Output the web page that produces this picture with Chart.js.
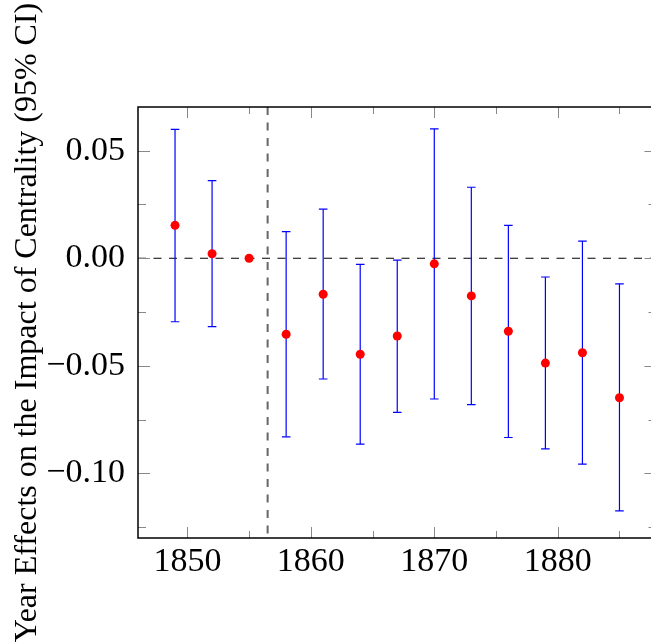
<!DOCTYPE html>
<html>
<head>
<meta charset="utf-8">
<script src="https://cdn.jsdelivr.net/npm/chart.js@4"></script>
<style>
  html, body { margin: 0; background: #fff; overflow: hidden; }
  canvas { display: block; }
</style>
</head>
<body>
<!-- canvas is a bit wider than the window: the right spine sits just off-page like in the original -->
<canvas id="chart" width="662" height="644"></canvas>
<script>
// year effects and 95% CI bounds (1855 is the reference year)
const years = [1849, 1852, 1855, 1858, 1861, 1864, 1867, 1870, 1873, 1876, 1879, 1882, 1885];
const estimates = [0.0153, 0.0021, 0, -0.0353, -0.0167, -0.0446, -0.0361, -0.0026, -0.0175, -0.0339, -0.0487, -0.0439, -0.0648];
const lowerCI = [-0.0295, -0.0318, null, -0.0830, -0.0561, -0.0864, -0.0716, -0.0654, -0.0680, -0.0833, -0.0886, -0.0957, -0.1174];
const upperCI = [0.0599, 0.0361, null, 0.0124, 0.0228, -0.0028, -0.0009, 0.0601, 0.0330, 0.0153, -0.0087, 0.0080, -0.0119];

const xMajorTicks = [1850, 1860, 1870, 1880];
const xMinorTicks = [1855, 1865, 1875, 1885];
const yMajorTicks = [0.05, 0, -0.05, -0.10];
const yMinorTicks = [0.025, -0.025, -0.075, -0.125];
const breakYear = 1856.5;

const serif = "'Liberation Serif', 'DejaVu Serif', serif";

// error bars as gapped line segments, caps from the 'line' point style
const errorPoints = [];
years.forEach((yr, i) => {
  if (lowerCI[i] === null) return;
  errorPoints.push({ x: yr, y: lowerCI[i] });
  errorPoints.push({ x: yr, y: upperCI[i] });
  errorPoints.push({ x: yr, y: null });
});

const fmtY = (v) => {
  const s = Math.abs(v).toFixed(2);
  return v < -1e-9 ? "\u2212" + s : s;
};

const decorations = {
  id: "decorations",
  beforeDatasetsDraw(chart) {
    const { ctx, chartArea: a, scales: { x, y } } = chart;
    ctx.save();
    // reference lines
    ctx.setLineDash([8, 7.5]);
    ctx.strokeStyle = "#000";
    ctx.lineWidth = 1.2;
    const y0 = y.getPixelForValue(0);
    ctx.beginPath();
    ctx.moveTo(a.left, y0);
    ctx.lineTo(a.right, y0);
    ctx.stroke();
    ctx.strokeStyle = "#666";
    ctx.lineWidth = 2;
    const xb = x.getPixelForValue(breakYear);
    ctx.beginPath();
    ctx.moveTo(xb, a.top);
    ctx.lineTo(xb, a.bottom);
    ctx.stroke();
    ctx.restore();
  },
  afterDraw(chart) {
    const { ctx, chartArea: a, scales: { x, y } } = chart;
    ctx.save();
    ctx.strokeStyle = "#888";
    ctx.lineWidth = 1;
    const tickX = (v, len) => {
      const px = Math.round(x.getPixelForValue(v)) + 0.5;
      ctx.beginPath();
      ctx.moveTo(px, a.bottom); ctx.lineTo(px, a.bottom - len);
      ctx.moveTo(px, a.top); ctx.lineTo(px, a.top + len);
      ctx.stroke();
    };
    const tickY = (v, len) => {
      const py = Math.round(y.getPixelForValue(v)) + 0.5;
      ctx.beginPath();
      ctx.moveTo(a.left, py); ctx.lineTo(a.left + len, py);
      ctx.moveTo(a.right, py); ctx.lineTo(a.right - len, py);
      ctx.stroke();
    };
    xMajorTicks.forEach((v) => tickX(v, 11));
    xMinorTicks.forEach((v) => tickX(v, 7));
    yMajorTicks.forEach((v) => tickY(v, 12));
    yMinorTicks.forEach((v) => tickY(v, 8));
    ctx.strokeStyle = "#000";
    ctx.lineWidth = 1.5;
    ctx.strokeRect(a.left, a.top, a.right - a.left, a.bottom - a.top);
    ctx.restore();
  }
};

new Chart(document.getElementById("chart"), {
  type: "scatter",
  data: {
    datasets: [
      {
        label: "Estimate",
        data: years.map((yr, i) => ({ x: yr, y: estimates[i] })),
        backgroundColor: "#ff0000",
        borderWidth: 0,
        pointRadius: 4.5,
        order: 0
      },
      {
        label: "95% CI",
        data: errorPoints,
        showLine: true,
        spanGaps: false,
        borderColor: "#0000ff",
        borderWidth: 1.2,
        pointStyle: "line",
        pointRadius: 4.3,
        pointBorderWidth: 1.2,
        pointBorderColor: "#0000ff",
        order: 1
      }
    ]
  },
  options: {
    responsive: false,
    animation: false,
    layout: { padding: { top: 107, right: 0, left: 0, bottom: 0 } },
    plugins: { legend: { display: false }, tooltip: { enabled: false } },
    scales: {
      x: {
        type: "linear",
        min: 1846,
        max: 1888,
        grid: { display: false, drawTicks: false },
        border: { display: false },
        afterBuildTicks: (s) => { s.ticks = xMajorTicks.map((v) => ({ value: v })); },
        afterFit: (s) => { s.height = 106; },
        ticks: {
          color: "#000",
          padding: 4,
          maxRotation: 0,
          font: { family: serif, size: 34 },
          callback: (v) => String(v)
        }
      },
      y: {
        min: -0.13,
        max: 0.0703,
        grid: { display: false, drawTicks: false },
        border: { display: false },
        afterBuildTicks: (s) => { s.ticks = yMajorTicks.map((v) => ({ value: v })); },
        afterFit: (s) => { s.width = 138; },
        ticks: {
          color: "#000",
          padding: 13,
          font: { family: serif, size: 34 },
          callback: (v) => fmtY(v)
        },
        title: {
          display: true,
          text: "Year Effects on the Impact of Centrality (95% CI)",
          color: "#000",
          padding: { top: 8, bottom: 0 },
          font: { family: serif, size: 32, lineHeight: 1.2 }
        }
      }
    }
  },
  plugins: [decorations]
});
</script>
</body>
</html>
